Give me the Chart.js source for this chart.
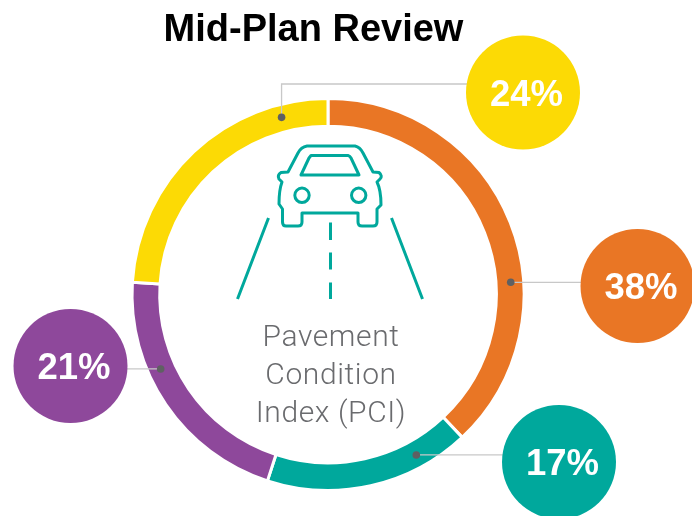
<!DOCTYPE html>
<html>
<head>
<meta charset="utf-8">
<script src="https://cdn.jsdelivr.net/npm/chart.js@4/dist/chart.umd.min.js"></script>
<style>
  html, body { margin: 0; padding: 0; background: #fff; overflow: hidden; }
  #wrap { position: relative; width: 692px; height: 516px; }
</style>
</head>
<body>
<div id="wrap"><canvas id="pciChart"></canvas></div>
<script>
// Share of network per PCI band, clockwise from 12 o'clock
const shareLabels = ['38%', '17%', '21%', '24%'];
const shareValues = [38, 17, 21, 24];
const shareColors = ['#E97625', '#00A89C', '#8E489B', '#FCDA05'];

const chartTitle = 'Mid-Plan Review';
const centerLines = ['Pavement', 'Condition', 'Index (PCI)'];

// Callout layout: where the dot sits along its slice, and the bubble centre
const dotAlong = [0.63, 0.235, 0.635, 0.83];
const bubbleCentres = [[637.5, 286], [559, 462], [70.5, 366], [523, 92.5]];

const TEAL = '#00A89C';

function drawCar(c) {
  c.save();
  c.strokeStyle = TEAL;
  c.lineWidth = 3;
  c.lineJoin = 'round';
  c.lineCap = 'butt';

  // Car outline
  c.beginPath();
  c.moveTo(307, 146);
  c.lineTo(355, 146);
  c.quadraticCurveTo(360, 147, 363, 153);
  c.lineTo(373, 172);
  c.lineTo(379, 172.5);
  c.quadraticCurveTo(383, 176, 380, 179);
  c.lineTo(377, 182);
  c.quadraticCurveTo(381, 190, 381, 205);
  c.lineTo(377, 209);
  c.lineTo(377, 222);
  c.quadraticCurveTo(377, 226, 373, 226);
  c.lineTo(362, 226);
  c.quadraticCurveTo(358, 226, 358, 222);
  c.lineTo(358, 213);
  c.lineTo(302, 213);
  c.lineTo(302, 222);
  c.quadraticCurveTo(302, 226, 298, 226);
  c.lineTo(286, 226);
  c.quadraticCurveTo(282.5, 226, 282.5, 222);
  c.lineTo(282.5, 209);
  c.lineTo(279, 204);
  c.quadraticCurveTo(279, 190, 282, 182);
  c.lineTo(279, 179);
  c.quadraticCurveTo(277, 175, 281, 172.5);
  c.lineTo(288, 172);
  c.lineTo(298, 153);
  c.quadraticCurveTo(301, 147, 307, 146);
  c.closePath();
  c.stroke();

  // Windshield
  c.beginPath();
  c.moveTo(311, 155.5);
  c.lineTo(348, 155.5);
  c.quadraticCurveTo(350, 156, 351, 158);
  c.lineTo(359, 175);
  c.lineTo(301, 175);
  c.lineTo(309, 158);
  c.closePath();
  c.stroke();

  // Headlights
  c.beginPath();
  c.arc(302, 195.3, 7.2, 0, Math.PI * 2);
  c.stroke();
  c.beginPath();
  c.arc(358.7, 195.3, 7.2, 0, Math.PI * 2);
  c.stroke();

  // Road edges and centre dashes
  c.beginPath();
  c.moveTo(268.5, 218);
  c.lineTo(237.5, 299);
  c.moveTo(391.5, 218);
  c.lineTo(422.5, 299);
  c.moveTo(330.5, 222.5);
  c.lineTo(330.5, 240);
  c.moveTo(330.5, 252.5);
  c.lineTo(330.5, 269.5);
  c.moveTo(330.5, 282.5);
  c.lineTo(330.5, 299);
  c.stroke();
  c.restore();
}

const pciOverlay = {
  id: 'pciOverlay',
  afterDatasetsDraw(chart) {
    const c = chart.ctx;
    const arcs = chart.getDatasetMeta(0).data;

    drawCar(c);

    // Centre label
    c.save();
    c.fillStyle = '#6A6B6E';
    c.font = '300 30px "Roboto", sans-serif';
    c.letterSpacing = '0.6px';
    c.textAlign = 'center';
    c.textBaseline = 'alphabetic';
    centerLines.forEach((line, i) => c.fillText(line, 331, 346 + i * 38));
    c.restore();

    // Leaders, dots and bubbles
    arcs.forEach((arc, i) => {
      const a = arc.startAngle + dotAlong[i] * (arc.endAngle - arc.startAngle);
      const r = (arc.innerRadius + arc.outerRadius) / 2 + 1;
      const dx = arc.x + Math.cos(a) * r;
      const dy = arc.y + Math.sin(a) * r;
      const [bx, by] = bubbleCentres[i];

      c.save();
      c.strokeStyle = '#C8C8C8';
      c.lineWidth = 1.3;
      c.beginPath();
      c.moveTo(dx, dy);
      if (i === 3) {
        // the yellow one goes up first, then across
        c.lineTo(dx, by - 8.5);
        c.lineTo(bx, by - 8.5);
      } else {
        c.lineTo(bx, dy);
      }
      c.stroke();

      c.fillStyle = '#5F6062';
      c.beginPath();
      c.arc(dx, dy, 3.8, 0, Math.PI * 2);
      c.fill();

      c.fillStyle = shareColors[i];
      c.beginPath();
      c.arc(bx, by, 57, 0, Math.PI * 2);
      c.fill();

      c.fillStyle = '#fff';
      c.font = 'bold 36.5px "Liberation Sans", sans-serif';
      c.textAlign = 'center';
      c.textBaseline = 'middle';
      c.fillText(shareLabels[i], bx + 3.5, by + 3);
      c.restore();
    });

    // Title sits left of the canvas centre, so it is placed by hand
    c.save();
    c.fillStyle = '#000';
    c.font = 'bold 38px "Liberation Sans", sans-serif';
    c.textAlign = 'center';
    c.textBaseline = 'alphabetic';
    c.fillText(chartTitle, 313.5, 41);
    c.restore();
  }
};

new Chart(document.getElementById('pciChart'), {
  type: 'doughnut',
  data: {
    labels: shareLabels,
    datasets: [{
      data: shareValues,
      backgroundColor: shareColors,
      borderColor: '#fff',
      borderWidth: 3,
      hoverOffset: 0
    }]
  },
  options: {
    responsive: true,
    maintainAspectRatio: false,
    animation: false,
    cutout: 167,
    radius: 196,
    layout: { padding: { left: 131.5, right: 167.5, top: 98.5, bottom: 25.5 } },
    plugins: {
      legend: { display: false },
      tooltip: { enabled: false }
    }
  },
  plugins: [pciOverlay]
});
</script>
</body>
</html>
